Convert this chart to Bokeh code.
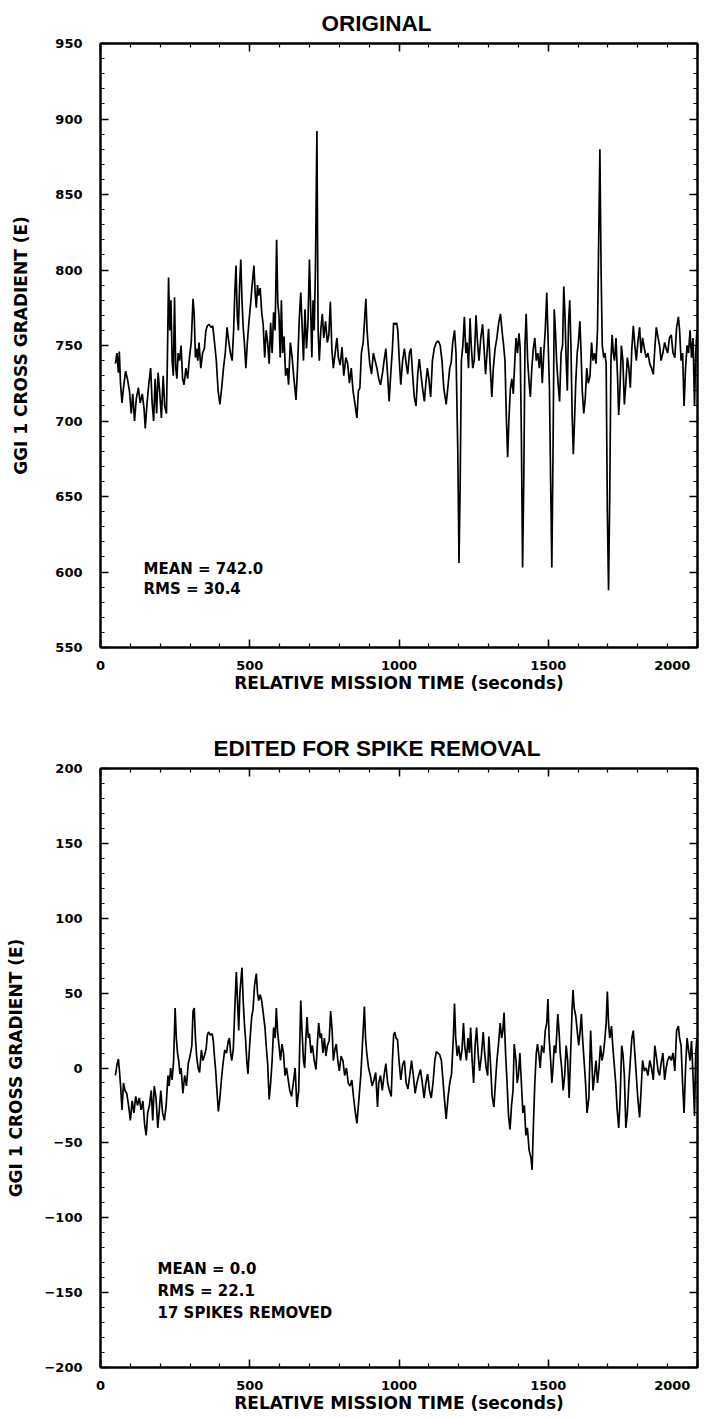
from bokeh.plotting import figure
from bokeh.models import LinearAxis, Label, Range1d, SingleIntervalTicker
from bokeh.layouts import column
from bokeh.embed import file_html
from bokeh.resources import INLINE

# ---------------- data ----------------
orig_t = [50, 55, 60, 63, 67, 72, 77, 84, 90, 97, 103, 108, 114, 120, 127, 133, 140, 146, 150, 156,
          162, 168, 173, 178, 183, 188, 193, 198, 204, 210, 215, 221, 224, 228, 232, 236, 240, 244, 248, 252,
          256, 260, 265, 270, 275, 280, 286, 292, 298, 304, 310, 314, 318, 322, 326, 330, 336, 342, 348, 353,
          358, 364, 370, 376, 382, 388, 394, 400, 406, 412, 418, 424, 430, 436, 441, 446, 450, 454, 458, 462,
          466, 470, 474, 478, 482, 487, 492, 497, 503, 508, 514, 518, 522, 526, 530, 535, 540, 545, 550, 555,
          560, 565, 570, 575, 580, 585, 590, 594, 598, 602, 606, 610, 615, 620, 626, 630, 636, 642, 648, 655,
          660, 666, 671, 676, 680, 685, 690, 695, 700, 704, 708, 712, 716, 720, 725, 729, 733, 738, 743, 748,
          754, 760, 765, 770, 775, 780, 786, 792, 797, 803, 809, 815, 822, 828, 834, 840, 846, 852, 859, 864,
          869, 874, 880, 885, 889, 893, 897, 902, 908, 914, 920, 926, 932, 938, 945, 950, 956, 962, 967, 972,
          978, 982, 987, 992, 996, 1001, 1006, 1012, 1018, 1024, 1029, 1035, 1040, 1046, 1051, 1057, 1063, 1068, 1074, 1080,
          1085, 1090, 1095, 1100, 1106, 1112, 1118, 1125, 1132, 1138, 1144, 1150, 1158, 1165, 1170, 1175, 1180, 1186, 1191, 1197,
          1201, 1205, 1209, 1214, 1219, 1224, 1228, 1233, 1238, 1242, 1247, 1252, 1258, 1263, 1268, 1274, 1280, 1285, 1290, 1295,
          1300, 1305, 1311, 1316, 1322, 1328, 1334, 1340, 1345, 1350, 1355, 1360, 1364, 1368, 1373, 1378, 1383, 1388, 1392, 1397,
          1402, 1406, 1410, 1414, 1418, 1422, 1426, 1431, 1436, 1440, 1445, 1450, 1455, 1460, 1465, 1470, 1475, 1480, 1485, 1490,
          1495, 1500, 1504, 1508, 1512, 1516, 1520, 1524, 1528, 1533, 1538, 1543, 1548, 1552, 1556, 1560, 1564, 1568, 1572, 1576,
          1580, 1584, 1588, 1592, 1597, 1601, 1606, 1610, 1614, 1619, 1624, 1629, 1634, 1640, 1645, 1650, 1655, 1660, 1665, 1669,
          1673, 1677, 1681, 1686, 1690, 1694, 1698, 1702, 1706, 1710, 1714, 1718, 1722, 1727, 1732, 1736, 1740, 1745, 1750, 1755,
          1760, 1765, 1770, 1775, 1780, 1785, 1790, 1795, 1800, 1806, 1811, 1816, 1822, 1828, 1834, 1840, 1846, 1852, 1857, 1862,
          1868, 1873, 1878, 1884, 1890, 1895, 1900, 1906, 1912, 1918, 1924, 1930, 1936, 1940, 1945, 1950, 1955, 1960, 1965, 1970,
          1975, 1980, 1985, 1990, 1994, 1998, 2000]
orig_v = [738, 745, 732, 746, 725, 712, 722, 733, 728, 720, 705, 718, 700, 715, 722, 712, 718, 708, 695, 712,
          725, 735, 712, 700, 728, 705, 732, 720, 702, 730, 710, 705, 740, 795, 760, 780, 740, 730, 782, 735,
          728, 745, 740, 750, 728, 724, 735, 728, 742, 752, 781, 770, 742, 748, 740, 752, 735, 745, 748, 760,
          763, 764, 762, 763, 752, 740, 720, 711, 722, 735, 745, 762, 752, 744, 740, 760, 785, 803, 770, 760,
          790, 807, 780, 762, 752, 735, 752, 765, 778, 790, 803, 785, 775, 790, 783, 788, 772, 764, 742, 760,
          752, 738, 765, 745, 772, 760, 820, 778, 770, 742, 780, 745, 756, 730, 735, 724, 752, 742, 728, 714,
          735, 768, 785, 760, 740, 774, 748, 765, 807, 775, 742, 780, 760, 800, 892, 760, 740, 760, 771, 755,
          766, 752, 757, 779, 748, 735, 745, 755, 742, 737, 749, 730, 742, 738, 725, 735, 720, 712, 702, 720,
          722, 745, 752, 768, 781, 760, 749, 738, 731, 745, 740, 735, 728, 724, 732, 740, 748, 730, 713, 730,
          748, 765, 764, 765, 760, 740, 724, 740, 748, 738, 731, 745, 748, 730, 716, 710, 732, 741, 730, 720,
          713, 725, 735, 728, 716, 740, 748, 752, 753, 750, 740, 722, 711, 725, 735, 739, 752, 760, 745, 680,
          606, 660, 740, 750, 769, 745, 752, 735, 768, 750, 735, 740, 770, 752, 740, 755, 764, 748, 731, 745,
          761, 738, 716, 735, 748, 755, 765, 771, 760, 751, 740, 700, 676, 700, 721, 728, 718, 740, 755, 745,
          758, 748, 690, 603, 660, 750, 771, 740, 725, 716, 735, 748, 755, 740, 745, 735, 749, 725, 745, 760,
          785, 750, 722, 660, 603, 680, 774, 760, 740, 725, 713, 745, 750, 789, 770, 740, 720, 765, 780, 750,
          705, 678, 700, 725, 745, 752, 766, 745, 720, 705, 715, 735, 725, 730, 752, 740, 745, 738, 760, 820,
          880, 800, 750, 742, 745, 738, 640, 588, 650, 740, 757, 745, 740, 755, 730, 704, 720, 750, 740, 711,
          725, 742, 735, 722, 748, 763, 750, 740, 752, 762, 745, 755, 748, 742, 745, 738, 735, 731, 748, 762,
          755, 750, 740, 745, 752, 748, 745, 755, 757, 745, 742, 762, 769, 760, 740, 745, 710, 735, 750, 745,
          760, 742, 755, 710, 745, 760, 752]

edit_t = [50, 55, 60, 64, 68, 72, 77, 82, 88, 94, 100, 106, 112, 118, 124, 130, 136, 142, 148, 153,
          158, 164, 170, 175, 180, 186, 192, 197, 202, 208, 214, 220, 226, 230, 235, 240, 245, 250, 254, 258,
          262, 266, 270, 276, 282, 288, 294, 300, 306, 310, 314, 318, 322, 327, 332, 338, 343, 348, 354, 358,
          362, 368, 374, 378, 382, 386, 390, 395, 400, 405, 410, 416, 422, 428, 432, 436, 440, 445, 450, 455,
          459, 463, 467, 471, 474, 478, 482, 486, 490, 494, 498, 503, 507, 511, 516, 522, 526, 530, 535, 540,
          545, 551, 555, 560, 565, 570, 575, 580, 585, 589, 593, 598, 603, 608, 613, 618, 623, 629, 634, 640,
          646, 652, 658, 664, 668, 671, 675, 680, 684, 688, 692, 696, 700, 705, 710, 716, 722, 727, 731, 736,
          740, 745, 750, 755, 760, 766, 771, 776, 780, 785, 790, 795, 800, 806, 812, 818, 824, 830, 836, 842,
          848, 854, 859, 864, 868, 872, 876, 880, 884, 888, 892, 898, 904, 910, 916, 922, 928, 932, 938, 944,
          950, 956, 962, 968, 974, 978, 982, 986, 990, 995, 1000, 1006, 1012, 1018, 1024, 1030, 1036, 1042, 1048, 1054,
          1060, 1066, 1072, 1078, 1084, 1090, 1096, 1102, 1108, 1114, 1120, 1125, 1130, 1136, 1142, 1148, 1154, 1158, 1164, 1170,
          1176, 1182, 1186, 1190, 1195, 1200, 1206, 1211, 1216, 1220, 1226, 1231, 1236, 1240, 1245, 1250, 1255, 1260, 1265, 1270,
          1276, 1282, 1287, 1292, 1297, 1301, 1306, 1312, 1318, 1323, 1328, 1333, 1339, 1344, 1348, 1352, 1357, 1362, 1367, 1372,
          1377, 1382, 1386, 1392, 1396, 1400, 1405, 1410, 1415, 1420, 1425, 1430, 1436, 1442, 1446, 1450, 1455, 1460, 1464, 1468,
          1473, 1478, 1485, 1490, 1495, 1499, 1503, 1508, 1512, 1516, 1520, 1525, 1532, 1536, 1540, 1545, 1550, 1555, 1560, 1565,
          1570, 1575, 1580, 1583, 1587, 1592, 1597, 1602, 1607, 1611, 1615, 1620, 1625, 1630, 1636, 1642, 1646, 1650, 1655, 1660,
          1665, 1670, 1675, 1680, 1685, 1690, 1694, 1698, 1702, 1706, 1712, 1716, 1720, 1726, 1731, 1736, 1741, 1746, 1750, 1755,
          1760, 1765, 1770, 1775, 1780, 1785, 1790, 1795, 1800, 1806, 1811, 1816, 1822, 1828, 1834, 1840, 1846, 1852, 1857, 1862,
          1868, 1873, 1878, 1884, 1890, 1895, 1900, 1906, 1912, 1918, 1924, 1930, 1936, 1940, 1945, 1950, 1955, 1960, 1965, 1970,
          1975, 1980, 1985, 1990, 1994, 1998, 2000]
edit_v = [-5, 2, 6, -3, -14, -28, -10, -15, -17, -25, -35, -22, -30, -19, -25, -20, -28, -22, -38, -45,
          -30, -25, -15, -35, -12, -20, -40, -28, -15, -30, -35, -25, -5, -12, 0, -8, 5, 40, 20, 10,
          5, -4, 0, -17, -5, -12, 3, 8, 15, 38, 40, 20, 8, 0, -3, 12, 5, 8, 13, 22,
          24, 22, 23, 18, 7, -2, -15, -29, -20, -8, 2, 12, 10, 18, 20, 10, 5, 13, 40, 64,
          45, 25, 50, 60, 67, 45, 30, 19, 5, -4, 10, 25, 35, 39, 55, 63, 50, 45, 49, 45,
          37, 27, 15, 3, -21, -10, 5, 27, 20, 40, 25, 15, 5, 16, 10, -5, 0, -8, -15, -19,
          -10, 0, -26, -15, 20, 45, 25, 5, 0, 20, 34, 20, 23, 10, 15, 5, -1, 18, 30, 20,
          23, 10, 20, 8, 15, 18, 38, 25, 5, 12, 16, 5, -2, 8, 5, -5, 0, -10, -12, -8,
          -20, -30, -37, -25, -15, -5, 10, 25, 41, 20, 10, 0, -5, -12, -8, -3, -26, -10, -5, -15,
          -5, 3, -10, -15, -19, 5, 22, 24, 20, 19, 5, -8, 2, 5, -10, -14, -5, 5, -5, -17,
          -10, -5, -1, -10, -20, -10, -4, -15, -20, -10, 5, 11, 10, 9, 5, -10, -25, -34, -20, -10,
          -4, 20, 43, 20, 8, 15, 5, 12, 30, 15, 5, 20, 10, 27, 5, -10, 15, 27, 10, -2,
          8, 24, 10, 0, -5, 21, 5, -19, -26, -10, 5, 15, 30, 20, 25, 37, 10, -10, -32, -41,
          -25, -15, 16, 5, -10, -5, 10, -10, -30, -25, -45, -40, -55, -60, -68, -40, -10, 10, 16, 10,
          0, 15, 10, 25, 30, 46, 20, 5, -10, 0, 15, 10, 36, 25, 10, 0, -15, -5, 15, 5,
          -20, 10, 40, 52, 40, 35, 25, 15, 25, 36, 20, 5, -10, -30, -20, 25, 5, -15, -5, 5,
          -10, 0, 15, 5, 10, 20, 30, 51, 30, 20, 28, 15, 5, -10, -28, -40, -20, 15, 10, -5,
          -40, -30, -10, 5, 20, 25, 10, -5, -20, -33, -15, 5, -2, 0, -5, 5, 0, -8, 15, 8,
          -2, -5, 3, 10, -8, 0, 5, 8, 5, 10, -2, 25, 28, 20, 15, -10, -30, 0, 20, 12,
          5, 18, -5, -32, 10, 20, 15]

x_label = "RELATIVE MISSION TIME (seconds)"
y_label = "GGI 1 CROSS GRADIENT (E)"
titles = ["ORIGINAL", "EDITED FOR SPIKE REMOVAL"]
stats_orig = ["MEAN = 742.0", "RMS = 30.4"]
stats_edit = ["MEAN = 0.0", "RMS = 22.1", "17 SPIKES REMOVED"]

FONT = "DejaVu Sans"
TFONT = "Liberation Sans"


def style_axis(ax, ticker, show_labels=True):
    ax.ticker = ticker
    ax.axis_line_color = "black"
    ax.axis_line_width = 2
    ax.major_tick_line_color = "black"
    ax.minor_tick_line_color = "black"
    ax.major_tick_line_width = 1.5
    ax.minor_tick_line_width = 1.2
    ax.major_tick_in = 8
    ax.major_tick_out = 0
    ax.minor_tick_in = 4
    ax.minor_tick_out = 0
    ax.major_label_text_font = FONT
    ax.major_label_text_font_style = "bold"
    if show_labels:
        ax.major_label_text_color = "black"
        ax.major_label_text_font_size = "13px"
    else:
        ax.major_label_text_color = None
        ax.major_label_text_font_size = "1px"
        ax.major_label_standoff = 0
    ax.axis_label_text_font = FONT
    ax.axis_label_text_font_style = "bold"
    ax.axis_label_text_color = "black"
    ax.axis_label_text_font_size = "17px"


def make_plot(t, v, ymin, ymax, height, btop, bbot, title, title_offset, ylab_standoff):
    p = figure(width=708, height=height, x_range=Range1d(0, 2000), y_range=Range1d(ymin, ymax),
               output_backend="svg", toolbar_location=None,
               min_border_left=100, min_border_right=11, min_border_top=btop, min_border_bottom=bbot,
               title=title)
    p.title.align = "left"
    p.title.offset = title_offset
    p.title.text_font = TFONT
    p.title.text_font_style = "bold"
    p.title.text_font_size = "22.5px"
    p.title.text_color = "black"
    p.title.standoff = 15
    p.grid.visible = False
    p.outline_line_color = "black"
    p.outline_line_width = 2
    p.background_fill_color = "white"
    p.border_fill_color = "white"

    xa = p.xaxis[0]
    ya = p.yaxis[0]
    style_axis(xa, SingleIntervalTicker(interval=500, num_minor_ticks=5))
    style_axis(ya, SingleIntervalTicker(interval=50, num_minor_ticks=5))
    xa.axis_label = x_label
    xa.major_label_standoff = 10
    xa.axis_label_standoff = -3
    xa.major_label_overrides = {2000: "2000\u00a0\u00a0\u00a0\u00a0"}
    ya.axis_label = y_label
    ya.major_label_standoff = 18
    ya.axis_label_standoff = ylab_standoff

    top_ax = LinearAxis()
    style_axis(top_ax, SingleIntervalTicker(interval=500, num_minor_ticks=5), show_labels=False)
    p.add_layout(top_ax, "above")
    right_ax = LinearAxis()
    style_axis(right_ax, SingleIntervalTicker(interval=50, num_minor_ticks=5), show_labels=False)
    p.add_layout(right_ax, "right")

    p.line(t, v, line_color="black", line_width=1.7)
    return p


p1 = make_plot(orig_t, orig_v, 550, 950, 711, 43, 64, titles[0], 221, 21)
p2 = make_plot(edit_t, edit_v, -200, 200, 707, 57, 51, titles[1], 113, 15)

for i, s in enumerate(stats_orig):
    p1.add_layout(Label(x=144, y=602 - 13.5 * i, text=s, text_font=FONT, text_font_style="bold",
                        text_font_size="15px", text_color="black", text_baseline="alphabetic"))
for i, s in enumerate(stats_edit):
    p2.add_layout(Label(x=191, y=-134 - 14.7 * i, text=s, text_font=FONT, text_font_style="bold",
                        text_font_size="15px", text_color="black", text_baseline="alphabetic"))

layout = column(p1, p2)
open("out.html", "w").write(file_html(layout, INLINE))
